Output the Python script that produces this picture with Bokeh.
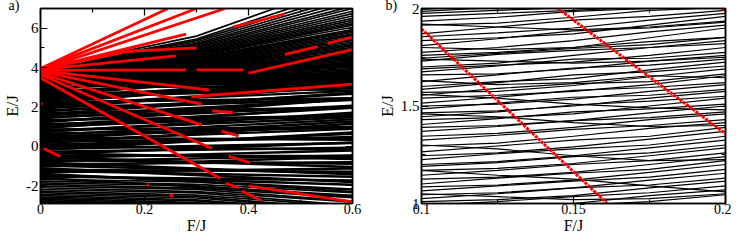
from bokeh.plotting import figure
from bokeh.models import LinearAxis, Range1d, Title, FixedTicker, CustomJSTickFormatter
from bokeh.layouts import row
from bokeh.embed import file_html
from bokeh.resources import INLINE

FONT = "Liberation Serif"

# ---------------- panel a) ----------------
a_xticks = [0, 0.2, 0.4, 0.6]
a_xminor = [0.1, 0.3, 0.5]
a_yticks = [-2, 0, 2, 4, 6]
a_yminor = [-1, 1, 3, 5]

# upper fan of levels (E at F = 0, 0.3, 0.6)
fan_f = [0.0, 0.3, 0.6]
fan_e0 = [3.95, 3.94, 3.92, 3.90, 3.89, 3.87, 3.85, 3.84, 3.82, 3.80,
          3.78, 3.77, 3.75, 3.73, 3.71, 3.70, 3.68, 3.66, 3.64, 3.62,
          3.60, 3.58, 3.56, 3.54, 3.52, 3.50, 3.48, 3.46, 3.44, 3.42,
          3.40, 3.38, 3.36, 3.34, 3.32, 3.30, 3.28, 3.26, 3.24, 3.22,
          3.93, 3.91, 3.88, 3.86, 3.83, 3.81, 3.79, 3.76, 3.74, 3.72,
          3.69, 3.67, 3.65, 3.63, 3.61, 3.59, 3.57, 3.55, 3.53, 3.51]
fan_e30 = [5.60, 5.45, 5.38, 5.22, 5.15, 5.02, 4.96, 4.85, 4.80, 4.70,
           4.62, 4.58, 4.48, 4.40, 4.36, 4.28, 4.20, 4.16, 4.10, 4.02,
           3.98, 3.90, 3.86, 3.80, 3.74, 3.70, 3.64, 3.58, 3.55, 3.48,
           3.44, 3.38, 3.32, 3.30, 3.22, 3.18, 3.12, 3.06, 3.02, 2.96,
           5.30, 5.08, 4.90, 4.75, 4.66, 4.52, 4.44, 4.32, 4.24, 4.13,
           4.06, 3.95, 3.83, 3.77, 3.67, 3.60, 3.52, 3.41, 3.35, 3.26]
fan_e60 = [8.40, 8.05, 7.80, 7.45, 7.28, 7.00, 6.86, 6.62, 6.50, 6.30,
           6.15, 6.05, 5.85, 5.70, 5.62, 5.45, 5.30, 5.22, 5.10, 4.95,
           4.88, 4.72, 4.65, 4.52, 4.40, 4.34, 4.20, 4.08, 4.02, 3.88,
           3.80, 3.68, 3.55, 3.50, 3.36, 3.28, 3.16, 3.04, 2.96, 2.84,
           7.62, 7.12, 6.74, 6.40, 6.22, 5.93, 5.78, 5.53, 5.38, 5.16,
           5.03, 4.80, 4.58, 4.45, 4.26, 4.12, 3.95, 3.72, 3.60, 3.42]

# dense bulk of levels (E at F = 0 and F = 0.6)
bulk_f = [0.0, 0.6]
bulk_e0 = [3.18, 3.11, 3.05, 2.99, 2.91, 2.85, 2.79, 2.71, 2.66, 2.58,
           2.51, 2.45, 2.39, 2.31, 2.24, 2.18, 2.12, 2.04, 1.97, 1.91,
           1.83, 1.77, 1.69, 1.62, 1.56, 1.48, 1.42, 1.34, 1.27, 1.21,
           1.13, 1.06, 1.00, 0.92, 0.86, 0.78, 0.71, 0.65, 0.57, 0.50,
           0.44, 0.36, 0.29, 0.23, 0.15, 0.08, 0.02, -0.06, -0.13, -0.19,
           -0.27, -0.34, -0.40, -0.48, -0.55, -0.61, -0.69, -0.76, -0.82, -0.90,
           -0.97, -1.03, -1.11, -1.18, -1.24, -1.32, -1.39, -1.45, -1.53, -1.60]
bulk_e60 = [4.48, 3.71, 4.15, 3.39, 3.81, 4.25, 3.49, 3.71, 2.96, 3.78,
            3.31, 2.95, 3.49, 3.21, 2.44, 3.48, 2.82, 3.04, 2.37, 3.11,
            2.43, 2.67, 1.99, 2.72, 2.36, 1.98, 2.42, 1.54, 2.07, 2.41,
            1.53, 1.96, 1.60, 2.02, 0.96, 1.48, 1.71, 0.95, 1.37, 1.00,
            0.34, 1.26, 0.89, 0.43, 1.15, 0.48, -0.18, 0.64, 0.17, 0.71,
            -0.07, -0.64, 0.20, -0.48, -1.05, -0.21, -0.89, -0.46, -1.42, -0.80,
            -1.37, -0.53, -1.81, -1.28, -1.54, -1.12, -2.19, -1.95, -1.73, -2.50]

# lowest levels, bending down (E at F = 0, 0.3, 0.6)
low_f = [0.0, 0.3, 0.6]
low_e0 = [-1.68, -1.76, -1.85, -1.93, -2.02, -2.10, -2.19, -2.27, -2.35,
          -2.43, -2.50, -2.57, -2.63, -2.69, -2.75, -2.80, -2.85, -2.90]
low_e30 = [-1.80, -1.93, -2.00, -2.12, -2.18, -2.30, -2.36, -2.47, -2.55,
           -2.62, -2.71, -2.77, -2.85, -2.90, -2.97, -3.03, -3.08, -3.14]
low_e60 = [-2.30, -2.35, -2.55, -2.60, -2.78, -2.82, -3.00, -3.05, -3.20,
           -3.25, -3.35, -3.40, -3.50, -3.55, -3.60, -3.65, -3.70, -3.75]

# red (highlighted) level pieces: start F, start E, end F, end E
red_a_f0 = [0.0, 0.0, 0.0, 0.0, 0.37, 0.0, 0.171, 0.47, 0.552, 0.0,
            0.0, 0.30, 0.40, 0.29, 0.0, 0.0, 0.33, 0.0, 0.348, 0.0,
            0.362, 0.0, 0.356, 0.387, 0.40, 0.006, 0.0, 0.204, 0.248]
red_a_e0 = [3.95, 3.95, 3.90, 3.90, 6.05, 3.90, 4.83, 4.67, 5.23, 3.90,
            3.86, 3.88, 3.72, 2.52, 3.85, 3.80, 1.80, 3.72, 0.77, 3.64,
            -0.50, 3.48, -1.87, -2.27, -2.01, -0.11, 2.17, -1.94, -2.45]
red_a_f1 = [0.245, 0.30, 0.355, 0.28, 0.47, 0.171, 0.30, 0.533, 0.60, 0.26,
            0.28, 0.39, 0.60, 0.60, 0.324, 0.31, 0.37, 0.31, 0.381, 0.33,
            0.403, 0.346, 0.381, 0.425, 0.60, 0.038, 0.004, 0.208, 0.256]
red_a_e1 = [7.0, 7.0, 7.0, 5.70, 6.72, 4.83, 5.00, 5.07, 5.55, 4.60,
            3.88, 3.88, 4.91, 3.16, 2.87, 2.15, 1.72, 1.09, 0.53, -0.11,
            -0.83, -1.63, -2.10, -2.75, -2.82, -0.51, 2.17, -1.96, -2.53]

# ---------------- panel b) ----------------
b_xticks = [0.1, 0.15, 0.2]
b_xminor = [0.125, 0.175]
b_yticks = [1, 1.5, 2]
b_yminor = [1.25, 1.75]

b_f = [0.1, 0.125, 0.15, 0.175, 0.2]
b_e100 = [1.995, 1.985, 1.975, 1.96, 1.935, 1.915, 1.87, 1.855, 1.835, 1.81,
          1.775, 1.76, 1.745, 1.73, 1.70, 1.69, 1.675, 1.66, 1.625, 1.60,
          1.585, 1.57, 1.555, 1.54, 1.515, 1.50, 1.485, 1.465, 1.445, 1.43,
          1.405, 1.39, 1.37, 1.345, 1.325, 1.295, 1.265, 1.245, 1.225, 1.20,
          1.19, 1.17, 1.145, 1.125, 1.10, 1.085, 1.065, 1.045, 1.025, 1.01,
          0.99, 0.96, 0.94,
          1.80, 1.46, 1.30, 1.63, 1.17, 1.05, 1.92, 1.56, 1.74]
b_e125 = [2.02, 2.005, 1.99, 1.975, 1.955, 1.925, 1.905, 1.875, 1.85, 1.845,
          1.80, 1.775, 1.77, 1.765, 1.72, 1.71, 1.705, 1.665, 1.66, 1.625,
          1.62, 1.575, 1.59, 1.555, 1.545, 1.51, 1.515, 1.475, 1.47, 1.44,
          1.435, 1.40, 1.395, 1.36, 1.35, 1.31, 1.295, 1.26, 1.255, 1.215,
          1.21, 1.18, 1.17, 1.135, 1.13, 1.095, 1.09, 1.055, 1.05, 1.02,
          1.01, 0.975, 0.965,
          1.79, 1.445, 1.28, 1.61, 1.145, 1.035, 1.905, 1.54, 1.73]
b_e150 = [2.05, 2.03, 2.005, 1.99, 1.985, 1.955, 1.94, 1.90, 1.87, 1.885,
          1.835, 1.80, 1.795, 1.785, 1.76, 1.725, 1.74, 1.69, 1.695, 1.64,
          1.66, 1.605, 1.615, 1.575, 1.58, 1.535, 1.545, 1.50, 1.505, 1.46,
          1.47, 1.425, 1.425, 1.39, 1.38, 1.345, 1.325, 1.29, 1.28, 1.245,
          1.24, 1.205, 1.20, 1.16, 1.155, 1.12, 1.115, 1.08, 1.08, 1.04,
          1.035, 1.00, 0.99,
          1.80, 1.415, 1.245, 1.62, 1.125, 1.02, 1.89, 1.51, 1.72]
b_e175 = [2.08, 2.06, 2.035, 2.01, 2.00, 1.99, 1.96, 1.94, 1.915, 1.90,
          1.88, 1.85, 1.815, 1.80, 1.80, 1.76, 1.745, 1.73, 1.71, 1.685,
          1.675, 1.65, 1.625, 1.61, 1.595, 1.575, 1.555, 1.54, 1.525, 1.50,
          1.485, 1.465, 1.44, 1.43, 1.40, 1.385, 1.345, 1.33, 1.30, 1.285,
          1.26, 1.245, 1.22, 1.20, 1.175, 1.16, 1.135, 1.12, 1.095, 1.08,
          1.055, 1.04, 1.01,
          1.83, 1.395, 1.22, 1.655, 1.09, 1.025, 1.905, 1.49, 1.73]
b_e200 = [2.11, 2.09, 2.07, 2.05, 2.02, 2.005, 1.99, 1.975, 1.96, 1.93,
          1.915, 1.90, 1.852, 1.835, 1.82, 1.80, 1.775, 1.76, 1.74, 1.725,
          1.705, 1.69, 1.665, 1.655, 1.62, 1.61, 1.585, 1.575, 1.55, 1.54,
          1.51, 1.50, 1.47, 1.46, 1.43, 1.415, 1.39, 1.37, 1.345, 1.325,
          1.30, 1.285, 1.26, 1.24, 1.22, 1.20, 1.175, 1.155, 1.13, 1.115,
          1.09, 1.07, 1.045,
          1.852, 1.40, 1.225, 1.645, 1.06, 1.05, 1.935, 1.48, 1.75]

red_b_f0 = [0.1, 0.1449, 0.1988]
red_b_e0 = [1.895, 2.0, 2.0]
red_b_f1 = [0.1611, 0.2, 0.2]
red_b_e1 = [1.0, 1.358, 1.986]


def tick_fmt():
    return CustomJSTickFormatter(code="return tick.toString();")


def blank_fmt():
    return CustomJSTickFormatter(code="return '';")


def style_axis(ax, size="15px", standoff=2, labels=True):
    ax.major_tick_in = 7
    ax.major_tick_out = 0
    ax.minor_tick_in = 4
    ax.minor_tick_out = 0
    ax.major_tick_line_color = "black"
    ax.minor_tick_line_color = "black"
    ax.major_tick_line_width = 1.2
    ax.minor_tick_line_width = 1.2
    ax.axis_line_color = "black"
    ax.axis_line_width = 1.5
    ax.major_label_text_font = FONT
    ax.major_label_text_color = "black"
    if labels:
        ax.major_label_text_font_size = size
        ax.major_label_standoff = standoff
    else:
        ax.major_label_text_font_size = "0px"
        ax.major_label_standoff = 0


def make_panel(xr, yr, xt, xm, yt, ym, width, mb_left, mb_right, tag, tag_off):
    p = figure(width=width, height=233, x_range=Range1d(*xr), y_range=Range1d(*yr),
               output_backend="svg", toolbar_location=None,
               min_border_left=mb_left, min_border_right=mb_right,
               min_border_top=8, min_border_bottom=30,
               background_fill_color="white", border_fill_color="white",
               outline_line_color="black", outline_line_width=1.5)
    p.xgrid.visible = False
    p.ygrid.visible = False
    xa = p.xaxis[0]
    ya = p.yaxis[0]
    xa.ticker = FixedTicker(ticks=xt, minor_ticks=xm)
    ya.ticker = FixedTicker(ticks=yt, minor_ticks=ym)
    xa.formatter = tick_fmt()
    ya.formatter = tick_fmt()
    style_axis(xa, size="14px", standoff=0)
    style_axis(ya, size="15px", standoff=2)
    ya.axis_label = "E/J"
    ya.axis_label_text_font = FONT
    ya.axis_label_text_font_size = "17px"
    ya.axis_label_text_font_style = "normal"
    ya.axis_label_text_color = "black"
    ya.axis_label_standoff = 1
    top = LinearAxis(ticker=FixedTicker(ticks=xt, minor_ticks=xm), formatter=blank_fmt())
    right = LinearAxis(ticker=FixedTicker(ticks=yt, minor_ticks=ym), formatter=blank_fmt())
    style_axis(top, labels=False)
    style_axis(right, labels=False)
    p.add_layout(top, "above")
    p.add_layout(right, "right")
    p.add_layout(Title(text=tag, align="left", offset=tag_off, standoff=-21,
                       vertical_align="top", text_font=FONT,
                       text_font_size="14px", text_font_style="normal",
                       text_color="black"), "above")
    p.add_layout(Title(text="F/J", align="center", standoff=-4,
                       vertical_align="bottom", text_font=FONT, text_font_size="16px",
                       text_font_style="normal", text_color="black"), "below")
    return p


# ---- figure a
pa = make_panel((0, 0.6), (-2.9, 7.0), a_xticks, a_xminor, a_yticks, a_yminor,
                width=374, mb_left=32, mb_right=22, tag="a)", tag_off=-32)
xs_fan = [fan_f] * len(fan_e0) + [low_f] * len(low_e0)
ys_fan = ([[a, b, c] for a, b, c in zip(fan_e0, fan_e30, fan_e60)]
          + [[a, b, c] for a, b, c in zip(low_e0, low_e30, low_e60)])
pa.multi_line(xs=xs_fan, ys=ys_fan, line_color="black", line_width=1.7)
xs_bulk = [bulk_f] * len(bulk_e0)
ys_bulk = [[a, b] for a, b in zip(bulk_e0, bulk_e60)]
pa.multi_line(xs=xs_bulk, ys=ys_bulk, line_color="black", line_width=2.4)
pa.segment(x0=red_a_f0, y0=red_a_e0, x1=red_a_f1, y1=red_a_e1,
           line_color="#ff0000", line_width=2.8)

# ---- figure b
pb = make_panel((0.1, 0.2), (1.0, 2.0), b_xticks, b_xminor, b_yticks, b_yminor,
                width=357, mb_left=38, mb_right=6, tag="b)", tag_off=-36)
bxs = [b_f] * len(b_e100)
bys = [[a, b, c, d, e] for a, b, c, d, e in zip(b_e100, b_e125, b_e150, b_e175, b_e200)]
pb.multi_line(xs=bxs, ys=bys, line_color="black", line_width=1.2)
pb.segment(x0=red_b_f0, y0=red_b_e0, x1=red_b_f1, y1=red_b_e1,
           line_color="#ff0000", line_width=3, line_dash="3 1")

layout = row(pa, pb)
open("out.html", "w").write(file_html(layout, INLINE))
